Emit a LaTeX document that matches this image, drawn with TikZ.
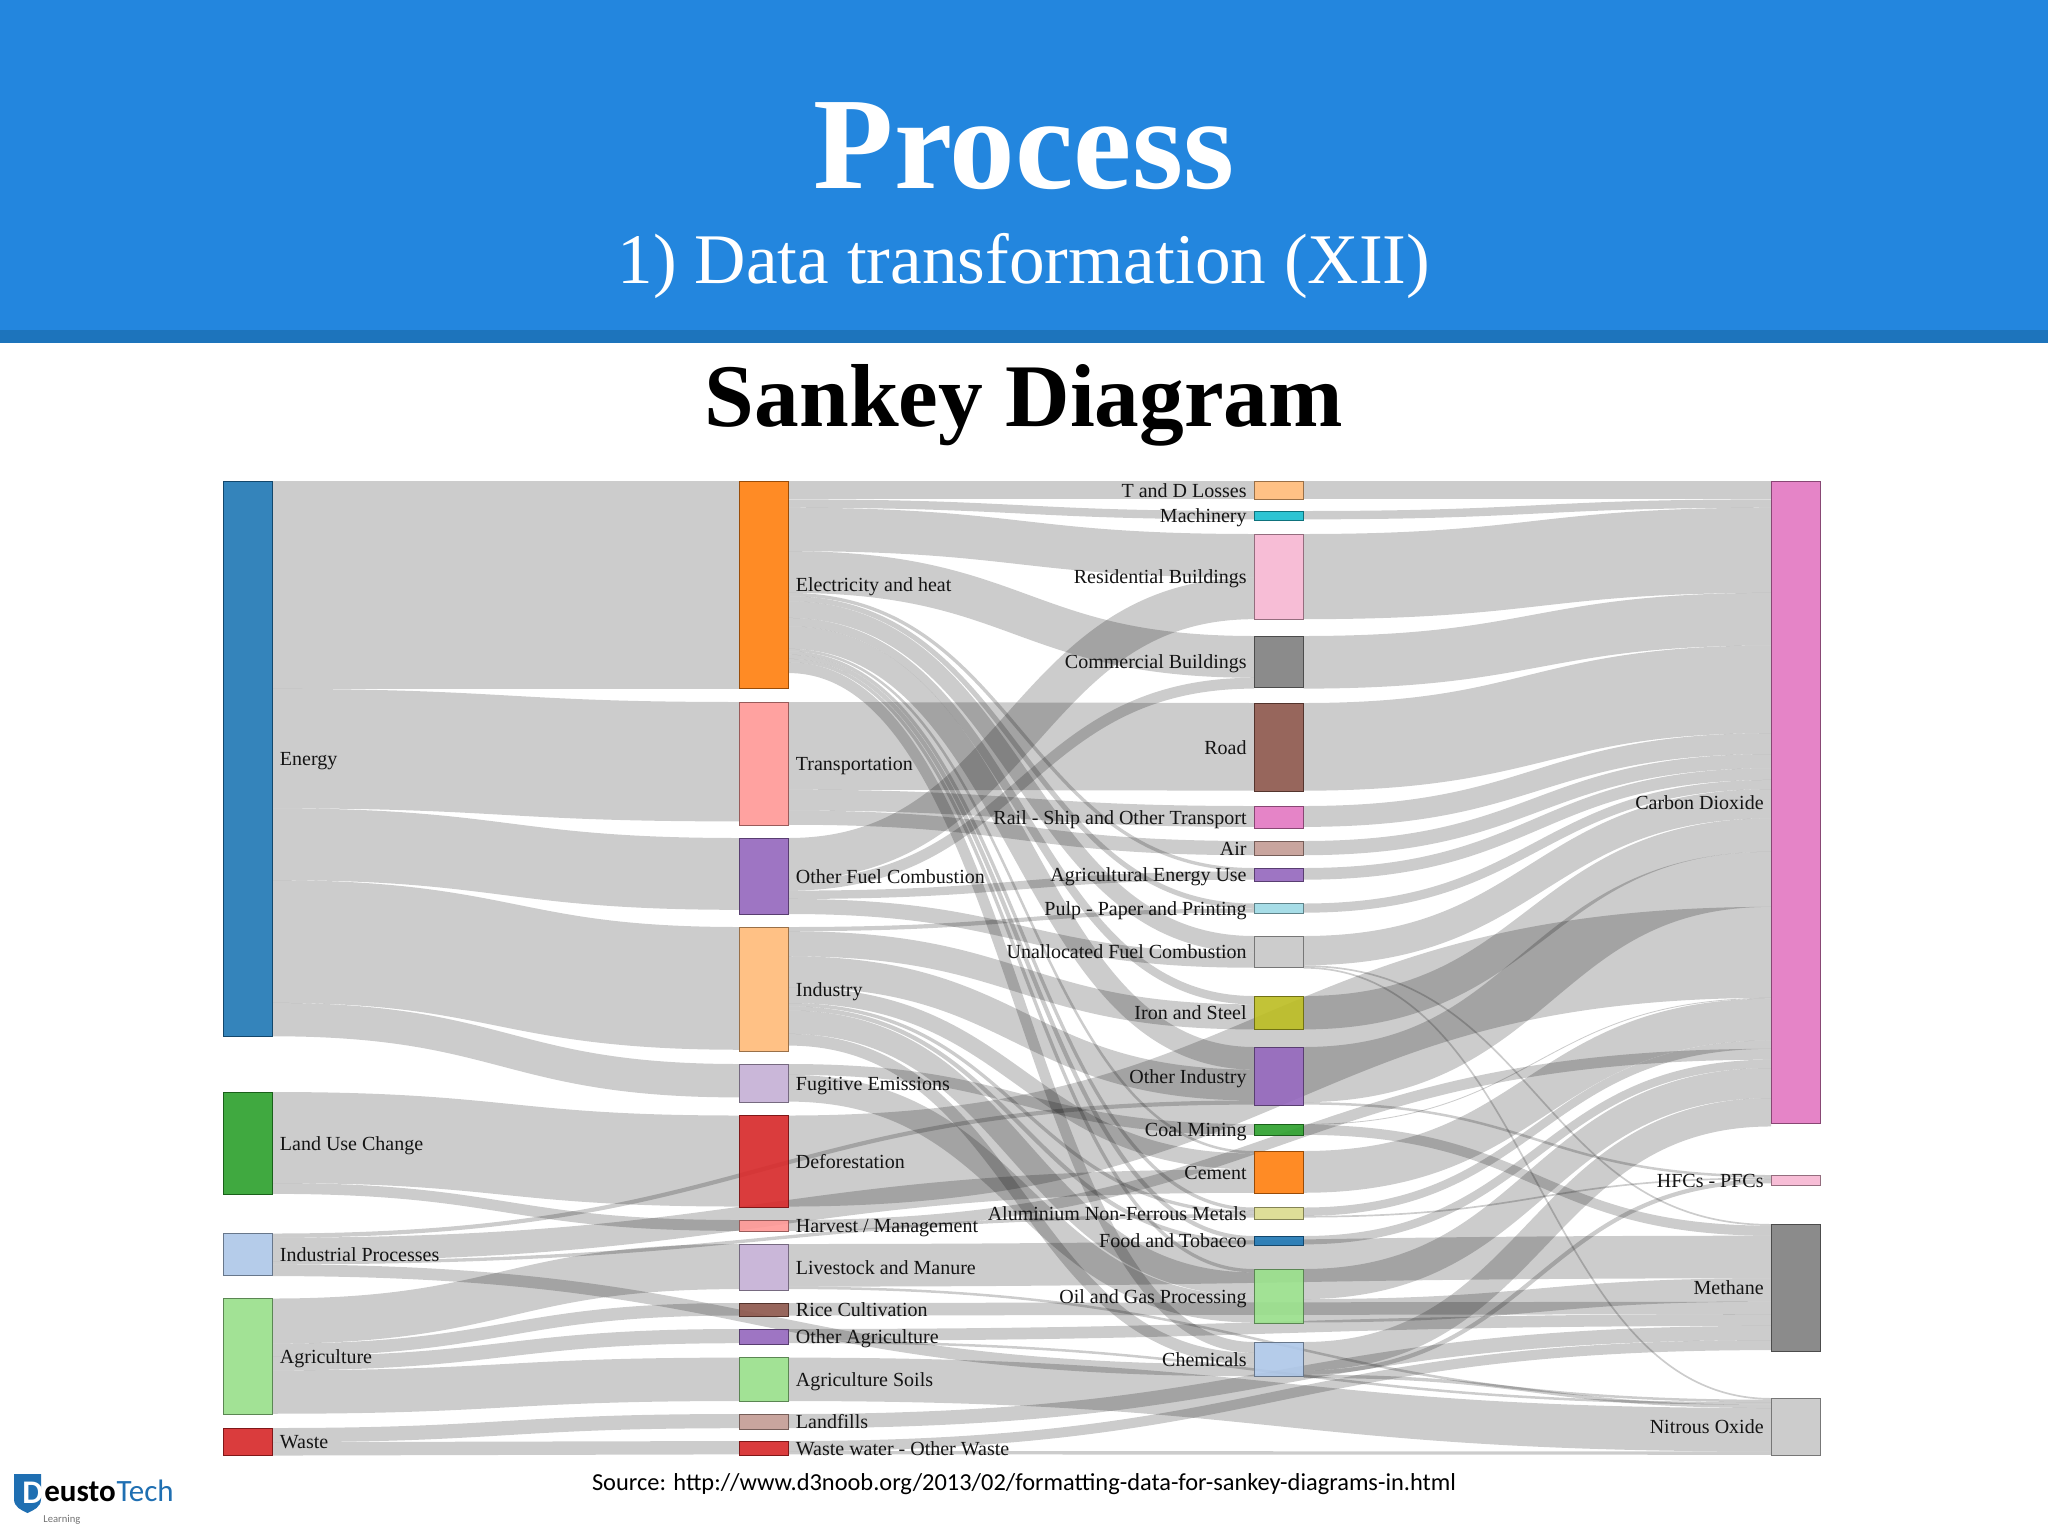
\documentclass[tikz,border=0pt]{standalone}
\usepackage{fontspec}
\usetikzlibrary{calc}
\setmainfont{Liberation Serif}
\newfontfamily\carlito{Carlito}
\pgfdeclarelayer{flows}
\pgfsetlayers{flows,main}
\definecolor{c1f}{HTML}{1F77B4}\definecolor{cae}{HTML}{AEC7E8}\definecolor{cff}{HTML}{FF7F0E}
\definecolor{cfb}{HTML}{FFBB78}\definecolor{c2c}{HTML}{2CA02C}\definecolor{c98}{HTML}{98DF8A}
\definecolor{cd6}{HTML}{D62728}\definecolor{cf9}{HTML}{FF9896}\definecolor{c94}{HTML}{9467BD}
\definecolor{cc5}{HTML}{C5B0D5}\definecolor{c8c}{HTML}{8C564B}\definecolor{cc4}{HTML}{C49C94}
\definecolor{ce3}{HTML}{E377C2}\definecolor{cf7}{HTML}{F7B6D2}\definecolor{c7f}{HTML}{7F7F7F}
\definecolor{cc7}{HTML}{C7C7C7}\definecolor{cbc}{HTML}{BCBD22}\definecolor{cdb}{HTML}{DBDB8D}
\definecolor{c17}{HTML}{17BECF}\definecolor{c9e}{HTML}{9EDAE5}
\definecolor{headblue}{HTML}{2386DE}\definecolor{headbar}{HTML}{1D74BC}\definecolor{logoblue}{HTML}{1F6FB2}
\tikzset{
 flowline/.style={draw=black,draw opacity=.2,line cap=butt},
 sbox/.style={rectangle,inner sep=0pt,outer sep=0pt,minimum width=24.75pt,line width=.5pt,fill opacity=.9},
 lbl/.style={inner sep=0pt,font=\fontsize{10}{10}\selectfont,text=black!92},
}
% \snode{name}{x}{top}{bottom}{colour}{label}{side: r or l}
\newcommand\snode[7]{%
 \pgfmathsetmacro\snh{(#4-#3)*0.5}%
 \node[sbox,anchor=north west,minimum height=\snh pt,fill=#5,draw=#5!60!black] (#1) at (#2,#3) {};%
 \if#7r\node[lbl,anchor=base west] (#1l) at ($(#1.east)+(7,7)$) {#6};%
 \else\node[lbl,anchor=base east] (#1l) at ($(#1.west)+(-7,7)$) {#6};\fi
}
\newcommand\flow[3]{%
 \pgfmathsetmacro\fw{#3*8.35}%
 \ifcsname fo#1\endcsname\else\expandafter\gdef\csname fo#1\endcsname{0}\fi
 \ifcsname fi#2\endcsname\else\expandafter\gdef\csname fi#2\endcsname{0}\fi
 \pgfmathsetmacro\fa{\csname fo#1\endcsname+\fw/2}%
 \pgfmathsetmacro\fb{\csname fi#2\endcsname+\fw/2}%
 \pgfmathsetmacro\fna{\csname fo#1\endcsname+\fw}%
 \pgfmathsetmacro\fnb{\csname fi#2\endcsname+\fw}%
 \expandafter\xdef\csname fo#1\endcsname{\fna}%
 \expandafter\xdef\csname fi#2\endcsname{\fnb}%
 \pgfmathsetmacro\flw{\fw*0.5}%
 \coordinate (fA) at ($(#1.north east)+(0,\fa)$);%
 \coordinate (fB) at ($(#2.north west)+(0,\fb)$);%
 \draw[flowline,line width=\flw pt] (fA) .. controls ($(fA)!.5!(fB |- fA)$) and ($(fB)!.5!(fA |- fB)$) .. (fB);%
}
\begin{document}
\begin{tikzpicture}[x=0.5pt,y=-0.5pt]
\useasboundingbox (0,0) rectangle (2048,1536);
\fill[headblue] (0,0) rectangle (2048,330);
\fill[headbar] (0,330) rectangle (2048,343);
\node[inner sep=0pt,anchor=base,text=white,font=\fontsize{65.6}{65}\selectfont\bfseries] (title) at (1024,188) {Process};
\node[inner sep=0pt,anchor=base,text=white,font=\fontsize{35.6}{36}\selectfont] (subtitle) at (1024,283) {1) Data transformation (XII)};
\node[inner sep=0pt,anchor=base,font=\fontsize{44.7}{45}\selectfont\bfseries] (heading) at (1024,426) {Sankey Diagram};
\node[inner sep=0pt,anchor=base,font=\fontsize{12.2}{13}\selectfont\carlito] (source) at (1024,1490) {Source: http://www.d3noob.org/2013/02/formatting-data-for-sankey-diagrams-in.html};
\def\ca{223}\def\cb{739}\def\cc{1254}\def\cd{1771}
% nodes
\snode{en}{\ca}{481}{1036}{c1f}{Energy}{r}
\snode{lu}{\ca}{1092}{1194}{c2c}{Land Use Change}{r}
\snode{ip}{\ca}{1233.5}{1275}{cae}{Industrial Processes}{r}
\snode{ag}{\ca}{1298.5}{1414.7}{c98}{Agriculture}{r}
\snode{wa}{\ca}{1428}{1455}{cd6}{Waste}{r}
\snode{el}{\cb}{481}{688.5}{cff}{Electricity and heat}{r}
\snode{tr}{\cb}{702}{825}{cf9}{Transportation}{r}
\snode{of}{\cb}{838}{914}{c94}{Other Fuel Combustion}{r}
\snode{ind}{\cb}{927}{1051}{cfb}{Industry}{r}
\snode{fu}{\cb}{1064}{1102}{cc5}{Fugitive Emissions}{r}
\snode{de}{\cb}{1115.5}{1207}{cd6}{Deforestation}{r}
\snode{ha}{\cb}{1220}{1231}{cf9}{Harvest / Management}{r}
\snode{lm}{\cb}{1244}{1290}{cc5}{Livestock and Manure}{r}
\snode{rc}{\cb}{1303}{1316}{c8c}{Rice Cultivation}{r}
\snode{oa}{\cb}{1329}{1344}{c94}{Other Agriculture}{r}
\snode{so}{\cb}{1357.6}{1401}{c98}{Agriculture Soils}{r}
\snode{lf}{\cb}{1414}{1429}{cc4}{Landfills}{r}
\snode{ww}{\cb}{1441}{1455}{cd6}{Waste water - Other Waste}{r}
\snode{td}{\cc}{481}{499}{cfb}{T and D Losses}{l}
\snode{ma}{\cc}{511}{520}{c17}{Machinery}{l}
\snode{re}{\cc}{534}{619}{cf7}{Residential Buildings}{l}
\snode{cm}{\cc}{636}{687}{c7f}{Commercial Buildings}{l}
\snode{ro}{\cc}{703}{791}{c8c}{Road}{l}
\snode{ra}{\cc}{806}{828}{ce3}{Rail - Ship and Other Transport}{l}
\snode{ai}{\cc}{841}{855}{cc4}{Air}{l}
\snode{ae}{\cc}{868}{881}{c94}{Agricultural Energy Use}{l}
\snode{pu}{\cc}{903.5}{913.5}{c9e}{Pulp - Paper and Printing}{l}
\snode{un}{\cc}{936}{967}{cc7}{Unallocated Fuel Combustion}{l}
\snode{ir}{\cc}{996}{1029.5}{cbc}{Iron and Steel}{l}
\snode{oi}{\cc}{1047}{1105}{c94}{Other Industry}{l}
\snode{cl}{\cc}{1124}{1135}{c2c}{Coal Mining}{l}
\snode{ce}{\cc}{1151}{1193}{cff}{Cement}{l}
\snode{al}{\cc}{1207.5}{1219}{cdb}{Aluminium Non-Ferrous Metals}{l}
\snode{fo}{\cc}{1236}{1245}{c1f}{Food and Tobacco}{l}
\snode{og}{\cc}{1269}{1323}{c98}{Oil and Gas Processing}{l}
\snode{ch}{\cc}{1342}{1376}{cae}{Chemicals}{l}
\snode{co}{\cd}{481}{1123}{ce3}{Carbon Dioxide}{l}
\snode{hf}{\cd}{1175}{1185}{cf7}{HFCs - PFCs}{l}
\snode{me}{\cd}{1224}{1351}{c7f}{Methane}{l}
\snode{no}{\cd}{1398}{1455}{cc7}{Nitrous Oxide}{l}
% flows
\begin{pgfonlayer}{flows}
\fill[white] (0,0) rectangle (2048,1536);
\flow{en}{el}{24.9}\flow{en}{tr}{14.3}\flow{en}{of}{8.6}\flow{en}{ind}{14.7}\flow{en}{fu}{4.0}
\flow{el}{td}{2.2}\flow{el}{ma}{1.0}\flow{el}{re}{5.2}\flow{el}{cm}{5.0}\flow{el}{ae}{.4}\flow{el}{pu}{.6}\flow{el}{un}{2.0}\flow{el}{ir}{1.0}\flow{el}{oi}{2.7}\flow{el}{ce}{.3}\flow{el}{al}{.4}\flow{el}{fo}{.5}\flow{el}{og}{.4}\flow{el}{ch}{1.3}
\flow{td}{co}{2.2}\flow{ma}{co}{1.0}\flow{re}{co}{10.2}\flow{cm}{co}{6.3}
\flow{tr}{ro}{10.5}\flow{tr}{ra}{2.5}\flow{tr}{ai}{1.7}
\flow{ro}{co}{10.5}\flow{ra}{co}{2.5}
\flow{of}{re}{5.0}\flow{of}{cm}{1.3}\flow{of}{ae}{1.0}\flow{of}{un}{1.8}
\flow{ai}{co}{1.7}\flow{ae}{co}{1.4}\flow{pu}{co}{1.1}
\flow{ind}{pu}{.5}\flow{ind}{ir}{3.0}\flow{ind}{oi}{3.7}\flow{ind}{ce}{1.9}\flow{ind}{al}{.4}\flow{ind}{fo}{.5}\flow{ind}{og}{2.8}\flow{ind}{ch}{1.4}
\flow{un}{co}{3.5}\flow{un}{me}{.2}\flow{un}{no}{.2}
\flow{ir}{co}{4.0}
\flow{oi}{co}{6.6}\flow{oi}{hf}{.3}
\flow{fu}{cl}{1.3}\flow{fu}{og}{3.2}
\flow{lu}{de}{10.9}\flow{lu}{ha}{1.3}
\flow{de}{co}{10.9}
\flow{cl}{co}{.1}\flow{cl}{me}{1.2}
\flow{ce}{co}{5.0}
\flow{al}{co}{1.0}\flow{al}{hf}{.2}
\flow{ha}{co}{1.3}
\flow{ip}{oi}{.5}\flow{ip}{ce}{2.8}\flow{ip}{al}{.4}\flow{ip}{ch}{1.4}
\flow{fo}{co}{1.0}
\flow{lm}{me}{5.1}\flow{lm}{no}{.3}
\flow{og}{co}{3.6}\flow{og}{me}{2.8}
\flow{ag}{lm}{5.4}\flow{ag}{rc}{1.5}\flow{ag}{oa}{1.7}\flow{ag}{so}{5.2}
\flow{rc}{me}{1.5}
\flow{oa}{me}{1.4}\flow{oa}{no}{.3}
\flow{ch}{co}{3.4}\flow{ch}{hf}{.5}\flow{ch}{no}{.4}
\flow{so}{no}{5.2}
\flow{lf}{me}{1.7}
\flow{wa}{lf}{1.7}\flow{wa}{ww}{1.6}
\flow{ww}{me}{1.2}\flow{ww}{no}{.4}
\end{pgfonlayer}
% logo
\fill[logoblue] (14,1474) -- (41,1474) -- (41,1499) .. controls (41,1507) and (34,1510) .. (27.5,1513) .. controls (21,1510) and (14,1507) .. (14,1499) -- cycle;
\node[inner sep=0pt,anchor=base west,text=white,font=\fontsize{16.5}{17}\selectfont\carlito\bfseries] (logod) at (22,1503) {D};
\node[inner sep=0pt,anchor=base west,font=\fontsize{15.5}{16}\selectfont\carlito\bfseries] (logoa) at (44,1501) {eusto};
\node[inner sep=0pt,anchor=base west,text=logoblue,font=\fontsize{15.5}{16}\selectfont\carlito] (logob) at (logoa.base east) {Tech};
\node[inner sep=0pt,anchor=base west,text=black!55,font=\fontsize{5.3}{6}\selectfont\carlito] (logoc) at (43,1522) {Learning};
\end{tikzpicture}
\end{document}
